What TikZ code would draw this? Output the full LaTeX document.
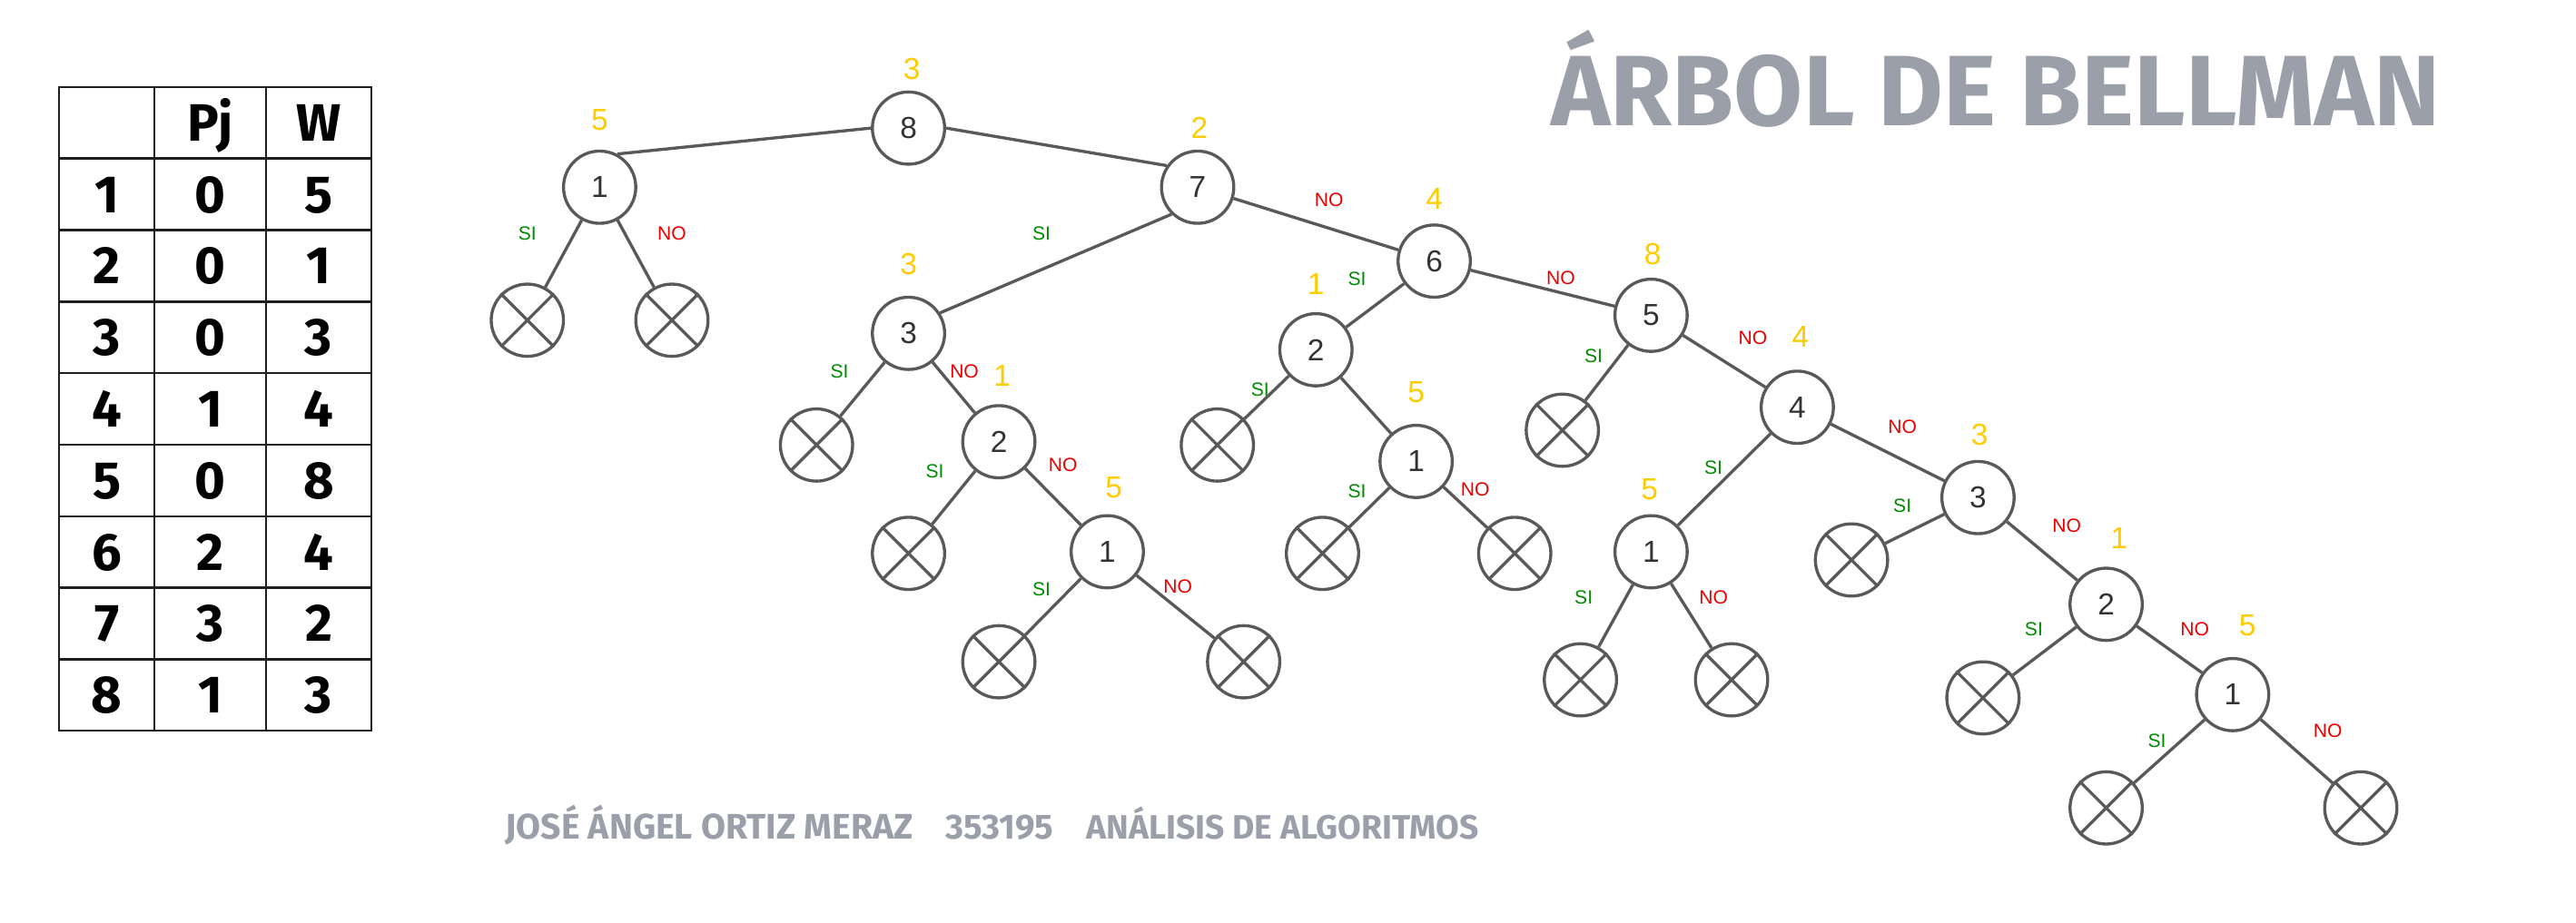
\documentclass[tikz,border=0pt]{standalone}
\usepackage{fontspec}
\setmainfont{Liberation Sans}
\newfontfamily\headfont{Fira Sans}

\definecolor{edgegray}{RGB}{89,89,89}
\definecolor{txtdark}{RGB}{51,51,51}
\definecolor{gold}{RGB}{255,204,0}
\definecolor{sigreen}{RGB}{0,140,0}
\definecolor{nored}{RGB}{235,0,0}
\definecolor{titlegray}{RGB}{154,159,169}
\definecolor{gridblack}{RGB}{30,30,30}

\begin{document}
\begin{tikzpicture}[x=0.018093cm, y=-0.018093cm,
  vertex/.style={circle, draw=edgegray, line width=0.95pt, minimum size=0.796cm,
                 inner sep=0pt, text=txtdark, font=\fontsize{9.5}{10}\selectfont},
  leaf/.style={circle, draw=edgegray, line width=0.95pt, minimum size=0.796cm, inner sep=0pt},
  link/.style={draw=edgegray, line width=0.95pt},
  weight/.style={text=gold, inner sep=0pt, font=\fontsize{9.5}{10}\selectfont},
  yes/.style={text=sigreen, inner sep=0pt, font=\fontsize{6}{7}\selectfont},
  no/.style={text=nored, inner sep=0pt, font=\fontsize{6}{7}\selectfont},
  cell/.style={anchor=base, inner sep=0pt, text=black,
               font=\headfont\bfseries\fontsize{16.5}{18}\selectfont},
  grid/.style={draw=gridblack, line width=0.7pt},
  banner/.style={anchor=base west, inner sep=0pt, text=titlegray}
]
\fill[white] (0,0) rectangle (1568,562);
\useasboundingbox (0,0) rectangle (1568,562);

% ---- data table -------------------------------------------------------
\draw[grid] (36,53) rectangle (226,445);
\foreach \cx in {94,162} \draw[grid] (\cx,53) -- (\cx,445);
\foreach \k in {1,...,8} \draw[grid] (36,{53+43.56*\k}) -- (226,{53+43.56*\k});
\node[cell] (hpj) at (128,{53+43.56*0.5+11}) {Pj};
\node[cell] (hw)  at (194,{53+43.56*0.5+11}) {W};
\foreach \i/\p/\w in {1/0/5,2/0/1,3/0/3,4/1/4,5/0/8,6/2/4,7/3/2,8/1/3}{
  \node[cell] (id\i) at (65, {53+43.56*(\i+0.5)+11}) {\i};
  \node[cell] (pj\i) at (128,{53+43.56*(\i+0.5)+11}) {\p};
  \node[cell] (w\i)  at (194,{53+43.56*(\i+0.5)+11}) {\w};
}

% ---- title and footer -------------------------------------------------
\node[banner] (title) at (944,76.5)
  {\resizebox{278.5pt}{!}{\headfont\bfseries ÁRBOL DE BELLMAN}};
\node[banner] (fname) at (307,511)
  {\resizebox{128pt}{!}{\headfont\bfseries JOSÉ ÁNGEL ORTIZ MERAZ}};
\node[banner] (fid) at (575,511)
  {\resizebox{34pt}{!}{\headfont\bfseries 353195}};
\node[banner] (fcourse) at (661,511)
  {\resizebox{123pt}{!}{\headfont\bfseries ANÁLISIS DE ALGORITMOS}};

% ---- tree nodes -------------------------------------------------------
\node[vertex] (r8) at (553,78) {8};
\node[vertex] (a1) at (365,114) {1};
\node[leaf] (a1y) at (321,195) {};
\node[leaf] (a1n) at (409,195) {};
\node[vertex] (r7) at (729,114) {7};
\node[vertex] (b3) at (553,203) {3};
\node[leaf] (b3y) at (497,271) {};
\node[vertex] (b2) at (608,269) {2};
\node[leaf] (b2y) at (553,337) {};
\node[vertex] (b1) at (674,336) {1};
\node[leaf] (b1y) at (608,403) {};
\node[leaf] (b1n) at (757,403) {};
\node[vertex] (r6) at (873,159) {6};
\node[vertex] (c2) at (801,213) {2};
\node[leaf] (c2y) at (741,271) {};
\node[vertex] (c1) at (862,281) {1};
\node[leaf] (c1y) at (805,337) {};
\node[leaf] (c1n) at (922,337) {};
\node[vertex] (r5) at (1005,192) {5};
\node[leaf] (r5y) at (951,262) {};
\node[vertex] (r4) at (1094,248) {4};
\node[vertex] (d1) at (1005,336) {1};
\node[leaf] (d1y) at (962,414) {};
\node[leaf] (d1n) at (1054,414) {};
\node[vertex] (r3) at (1204,303) {3};
\node[leaf] (r3y) at (1127,341) {};
\node[vertex] (e2) at (1282,368) {2};
\node[leaf] (e2y) at (1207,425) {};
\node[vertex] (e1) at (1359,423) {1};
\node[leaf] (e1y) at (1282,492) {};
\node[leaf] (e1n) at (1437,492) {};

% crosses in the pruned leaves
\foreach \x in {a1y,a1n,b3y,b2y,b1y,b1n,c2y,c1y,c1n,r5y,d1y,d1n,r3y,e2y,e1y,e1n}
  \draw[link] (\x.45) -- (\x.225) (\x.135) -- (\x.315);

% ---- edges ------------------------------------------------------------
\draw[link] (r8.west) -- (a1.62);
\draw[link] (r8.east) -- (r7.145);
\draw[link] (a1) -- (a1y);
\draw[link] (a1) -- (a1n);
\draw[link] (r7.226) -- (b3.33);
\draw[link] (r7) -- (r6);
\draw[link] (b3) -- (b3y);
\draw[link] (b3) -- (b2);
\draw[link] (b2) -- (b2y);
\draw[link] (b2) -- (b1);
\draw[link] (b1) -- (b1y);
\draw[link] (b1) -- (b1n);
\draw[link] (r6) -- (c2);
\draw[link] (r6) -- (r5);
\draw[link] (c2) -- (c2y);
\draw[link] (c2) -- (c1);
\draw[link] (c1) -- (c1y);
\draw[link] (c1) -- (c1n);
\draw[link] (r5) -- (r5y);
\draw[link] (r5) -- (r4);
\draw[link] (r4) -- (d1);
\draw[link] (r4) -- (r3);
\draw[link] (d1) -- (d1y);
\draw[link] (d1) -- (d1n);
\draw[link] (r3) -- (r3y);
\draw[link] (r3) -- (e2);
\draw[link] (e2) -- (e2y);
\draw[link] (e2) -- (e1);
\draw[link] (e1) -- (e1y);
\draw[link] (e1) -- (e1n);

% ---- weights ----------------------------------------------------------
\foreach \px/\py/\v [count=\n] in {555/42/3, 365/73/5, 730/78/2, 553/161/3, 610/229/1,
    678/297/5, 873/121/4, 801/173/1, 862/239/5, 1006/155/8, 1096/205/4,
    1004/298/5, 1205/265/3, 1290/328/1, 1368/381/5}
  \node[weight] (wt\n) at (\px,\py) {\v};

% ---- branch labels ----------------------------------------------------
\foreach \px/\py [count=\n] in {321/142, 634/142, 511/226, 569/287, 634/359, 826/170,
    767/237, 826/299, 970/217, 1043/285, 964/364, 1158/308, 1238/383, 1313/451}
  \node[yes] (si\n) at (\px,\py) {SI};
\foreach \px/\py [count=\n] in {409/142, 809/122, 587/226, 647/283, 717/357, 898/298,
    950/169, 1067/206, 1043/364, 1158/260, 1258/320, 1336/383, 1417/445}
  \node[no] (no\n) at (\px,\py) {NO};
\end{tikzpicture}
\end{document}
